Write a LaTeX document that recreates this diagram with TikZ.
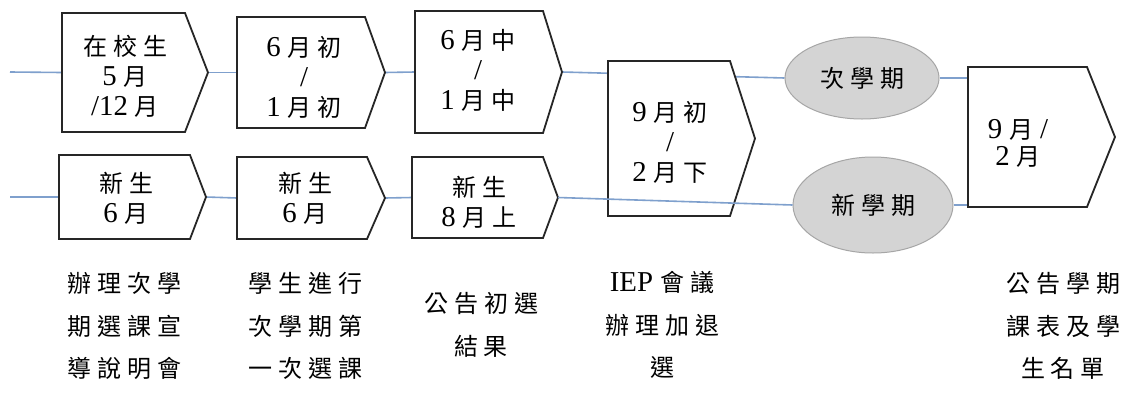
\documentclass[tikz,border=0pt]{standalone}
\usepackage{fontspec}
\setmainfont{Liberation Serif}[Scale=1.2]
\newfontfamily\cjk[LetterSpace=25]{Noto Sans CJK TC}
\usetikzlibrary{shapes.geometric,backgrounds}
\definecolor{linkblue}{RGB}{127,160,205}
\newcommand\C[1]{{\cjk #1}}
\newcommand\G{\hspace{7pt}}
% name, x1, y1, x2, y2, xtip
\newcommand\pent[6]{%
  \draw[pentbox] (#2,#3) -- (#4,#3) -- (#6,{(#3+#5)/2}) -- (#4,#5) -- (#2,#5) -- cycle;
  \coordinate (#1w) at (#2,{(#3+#5)/2});
  \coordinate (#1e) at (#6,{(#3+#5)/2});}
\tikzset{
  conn/.style={draw=linkblue, line width=1.6pt},
  pentbox/.style={draw=black!85, line width=1.8pt, fill=white, line join=miter},
  lbl/.style={inner sep=0pt, align=center, font=\fontsize{24}{30}\selectfont},
  note/.style={inner sep=0pt, align=center, font=\fontsize{24}{42.5}\selectfont},
  term/.style={ellipse, draw=black!35, fill=black!17, line width=1pt, inner sep=0pt,
    font=\fontsize{24}{30}\selectfont},
}
\begin{document}
\begin{tikzpicture}[x=1pt,y=-1pt]
\useasboundingbox (0,0) rectangle (1129,394);
% boxes
\pent{b1}{62}{13}{185}{132}{208}
\pent{b2}{237}{17}{365}{128}{385}
\pent{b3}{415}{11}{543}{133}{562}
\pent{b4}{59}{155}{190}{239}{206}
\pent{b5}{237}{157}{367}{239}{385}
\pent{b6}{412}{157}{543}{238}{558}
\pent{b7}{608}{61}{730}{216}{755}
\pent{b8}{968}{67}{1087}{207}{1115}
% box texts
\node[lbl] (t1) at (125,76) {\C{在校生}\\5\G\C{月}\\/12\G\C{月}};
\node[lbl] (t2) at (304,77) {6\G\C{月初}\\/\\1\G\C{月初}};
\node[lbl] (t3) at (478,70) {6\G\C{月中}\\/\\1\G\C{月中}};
\node[lbl] (t4) at (126,198) {\C{新生}\\6\G\C{月}};
\node[lbl] (t5) at (305,198) {\C{新生}\\6\G\C{月}};
\node[lbl] (t6) at (479,202) {\C{新生}\\8\G\C{月上}};
\node[lbl] (t7) at (670,142) {9\G\C{月初}\\/\\2\G\C{月下}};
\node[lbl, font=\fontsize{24}{27}\selectfont] (t8) at (1018,143) {9\G\C{月}\G/\\2\G\C{月}};
% ellipses
\node[term, minimum width=154pt, minimum height=82pt] (e1) at (862,78) {\C{次學期}};
\node[term, minimum width=160pt, minimum height=96pt] (e2) at (873,205) {\C{新學期}};
% notes
\node[note] (n1) at (124,326) {\C{辦理次學}\\\C{期選課宣}\\\C{導說明會}};
\node[note] (n2) at (305,326) {\C{學生進行}\\\C{次學期第}\\\C{一次選課}};
\node[note] (n3) at (481,325) {\C{公告初選}\\\C{結果}};
\node[note] (n4) at (662,325) {IEP\G\C{會議}\\\C{辦理加退}\\\C{選}};
\node[note] (n5) at (1063,326) {\C{公告學期}\\\C{課表及學}\\\C{生名單}};
% connectors
\coordinate (s1) at (10,72);
\coordinate (s2) at (10,197);
\begin{pgfonlayer}{background}
  \fill[white] (0,0) rectangle (1129,394);
  \draw[conn] (s1) -- (b1w);
  \draw[conn] (b1e) -- (b2w);
  \draw[conn] (b2e) -- (b3w);
  \draw[conn] (b3e) -- (e1.west);
  \draw[conn] (e1.east) -- (e1.east -| b8w);
  \draw[conn] (s2) -- (b4w);
  \draw[conn] (b4e) -- (b5w);
  \draw[conn] (b5e) -- (b6w);
  \draw[conn] (e2.east) -- (e2.east -| b8w);
\end{pgfonlayer}
\draw[conn] (b6e) -- (e2.west);
\end{tikzpicture}
\end{document}
